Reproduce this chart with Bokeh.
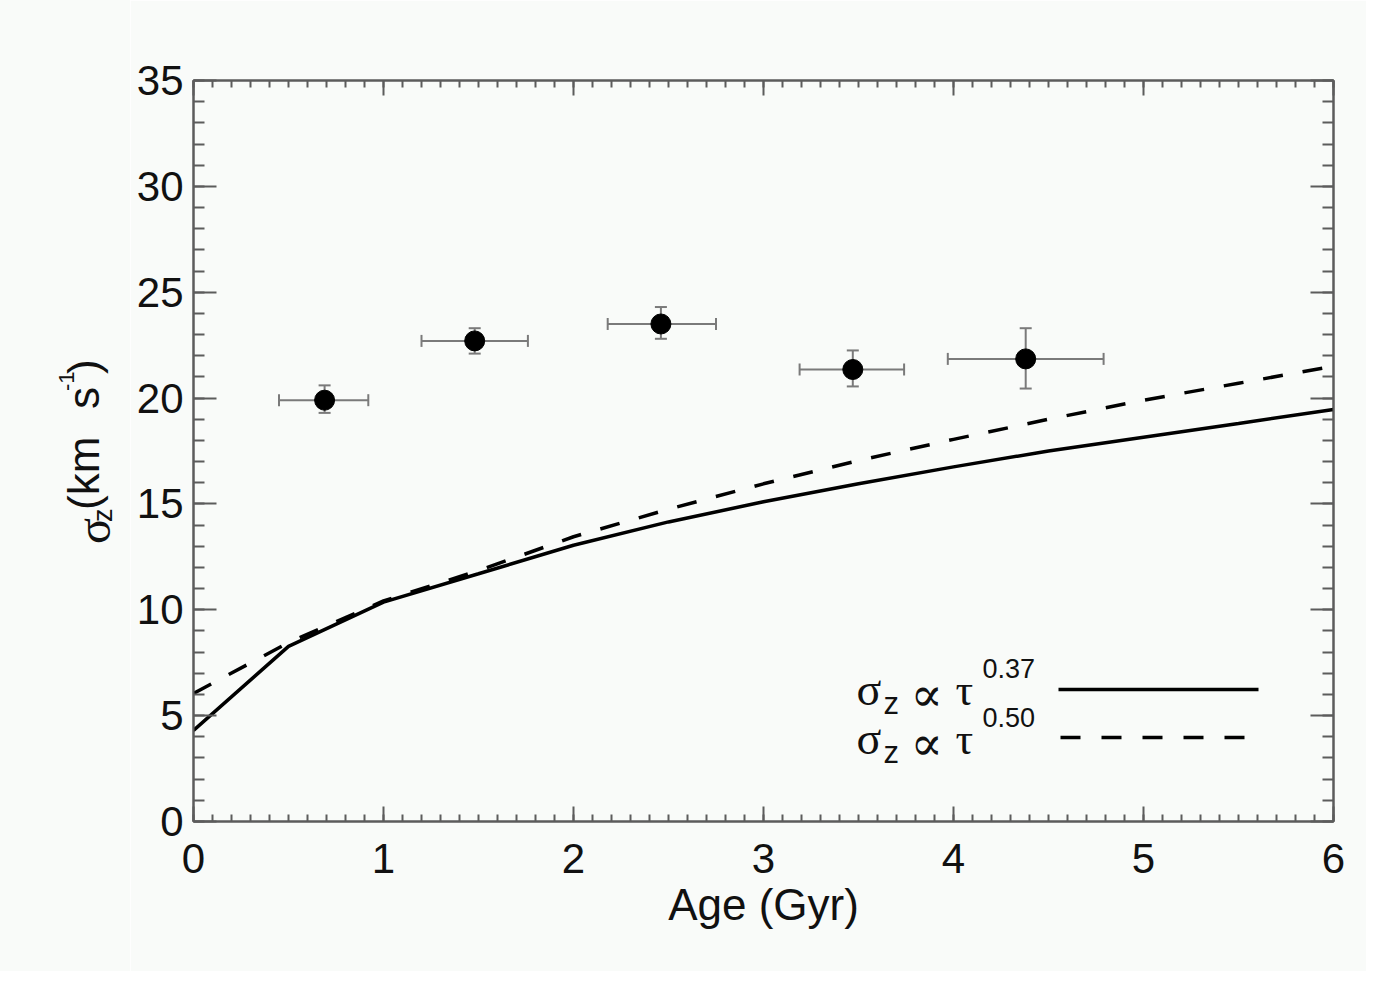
import numpy as np
from bokeh.plotting import figure
from bokeh.layouts import row
from bokeh.models import (Range1d, LinearAxis, SingleIntervalTicker, ColumnDataSource,
                          Whisker, TeeHead, Label, Div)
from bokeh.embed import file_html
from bokeh.resources import INLINE

# ---------------- data ----------------
age = [0.69, 1.48, 2.46, 3.47, 4.38]
age_lo = [0.45, 1.20, 2.18, 3.19, 3.97]
age_hi = [0.92, 1.76, 2.75, 3.74, 4.79]
sigma = [19.9, 22.7, 23.5, 21.35, 21.85]
sigma_lo = [19.3, 22.1, 22.8, 20.55, 20.45]
sigma_hi = [20.6, 23.3, 24.3, 22.25, 23.3]

curve_age = [0.0, 0.5, 1.0, 1.5, 2.0, 2.5, 3.0, 3.5, 4.0, 4.5, 5.0, 5.5, 6.0]
sigma_037 = [4.3, 8.27, 10.36, 11.7, 13.05, 14.15, 15.1, 15.95, 16.75, 17.5, 18.15, 18.8, 19.46]
sigma_050 = [6.05, 8.45, 10.42, 11.85, 13.45, 14.75, 15.95, 17.05, 18.05, 19.0, 19.9, 20.7, 21.5]

x_ticks = [0, 1, 2, 3, 4, 5, 6]
y_ticks = [0, 5, 10, 15, 20, 25, 30, 35]

# ---------------- layout ----------------
BG = "#f9fbf9"
AX = "#5c5c5c"
TXT = "#111111"
LW = 130                      # width of the side strip holding the y-axis title
FL, FT, FW, FH = 193, 80, 1140, 741
FR, FB = 33, 150
H = FT + FH + FB
X0, X1, Y0, Y1 = 0, 6, 0, 35

p = figure(frame_width=FW, frame_height=FH,
           min_border_left=FL - LW, min_border_top=FT, min_border_right=FR, min_border_bottom=FB,
           x_range=Range1d(X0, X1), y_range=Range1d(Y0, Y1),
           x_axis_type=None, y_axis_type=None,
           output_backend="svg", toolbar_location=None,
           background_fill_color=BG, border_fill_color=BG)
p.grid.visible = False
p.outline_line_color = AX
p.outline_line_width = 2

# page pixels -> data, for placing legend text only
def dx(px):
    return X0 + (px - FL) * (X1 - X0) / FW
def dy(py):
    return Y0 + (FT + FH - py) * (Y1 - Y0) / FH

def make_axis(kind, labels):
    if kind == "x":
        t = SingleIntervalTicker(interval=1, num_minor_ticks=10)
        ax = LinearAxis(ticker=t, major_tick_in=15, major_tick_out=0,
                        minor_tick_in=7, minor_tick_out=0)
        ticks = x_ticks
    else:
        t = SingleIntervalTicker(interval=5, num_minor_ticks=5)
        ax = LinearAxis(ticker=t, major_tick_in=23, major_tick_out=0,
                        minor_tick_in=11, minor_tick_out=0)
        ticks = y_ticks
    ax.axis_line_color = AX
    ax.axis_line_width = 2
    ax.major_tick_line_color = AX
    ax.major_tick_line_width = 2
    ax.minor_tick_line_color = AX
    ax.minor_tick_line_width = 2
    ax.major_label_text_font = "Liberation Sans"
    ax.major_label_text_font_size = "42px"
    ax.major_label_text_color = TXT
    if not labels:
        ax.major_label_overrides = {t_: "" for t_ in ticks}
        ax.major_label_standoff = 0
    return ax

xb = make_axis("x", True)
xb.major_label_standoff = 22
xb.axis_label = "Age (Gyr)"
xb.axis_label_text_font = "Liberation Sans"
xb.axis_label_text_font_size = "44px"
xb.axis_label_text_font_style = "normal"
xb.axis_label_text_color = TXT
xb.axis_label_standoff = 4
p.add_layout(xb, "below")

yl = make_axis("y", True)
yl.major_label_standoff = 10
p.add_layout(yl, "left")

p.add_layout(make_axis("x", False), "above")
p.add_layout(make_axis("y", False), "right")

# ---------------- curves ----------------
csrc = ColumnDataSource(dict(age=curve_age, s37=sigma_037, s50=sigma_050))
p.line("age", "s37", source=csrc, line_color="black", line_width=3.5)
p.line("age", "s50", source=csrc, line_color="black", line_width=3.5, line_dash="20 20")

# ---------------- data points with error bars ----------------
src = ColumnDataSource(dict(age=age, age_lo=age_lo, age_hi=age_hi,
                            sigma=sigma, sigma_lo=sigma_lo, sigma_hi=sigma_hi))
EB = "#7a7a7a"
def tee():
    return TeeHead(size=12, line_color=EB, line_width=2)
p.add_layout(Whisker(source=src, base="sigma", lower="age_lo", upper="age_hi",
                     dimension="width", line_color=EB, line_width=2,
                     lower_head=tee(), upper_head=tee()))
p.add_layout(Whisker(source=src, base="age", lower="sigma_lo", upper="sigma_hi",
                     dimension="height", line_color=EB, line_width=2,
                     lower_head=tee(), upper_head=tee()))
p.scatter("age", "sigma", source=src, size=20, color="black")

# ---------------- legend (inside the frame) ----------------
def ptxt(s, px, py, size, font="Liberation Sans"):
    p.add_layout(Label(x=dx(px), y=dy(py), text=s, text_font=font,
                       text_font_size=f"{size}px", text_color=TXT,
                       text_align="left", text_baseline="alphabetic"))

for i, sup in enumerate(["0.37", "0.50"]):
    off = 49 * i - 10
    ptxt("σ", 856, 699 + off, 46, "Liberation Serif")
    ptxt("z", 883, 713 + off, 31, "Liberation Sans")
    ptxt("∝", 910, 703 + off, 48, "DejaVu Serif")
    ptxt("τ", 955, 700 + off, 44, "Liberation Serif")
    ptxt(sup, 982, 678 + off, 27, "Liberation Sans")

p.line([dx(1058), dx(1258)], [dy(689), dy(689)], line_color="black", line_width=3.5)
p.line([dx(1060), dx(1245)], [dy(737), dy(737)], line_color="black", line_width=3.5,
       line_dash="20 21")

# ---------------- y-axis title strip: sigma_z (km s^-1), rotated HTML text ----------------
def piece(s, base_x, start_y, size, serif=False):
    fam = "'Liberation Serif', serif" if serif else "'Liberation Sans', sans-serif"
    b = (0.8375 if serif else 0.8465) * size      # baseline depth in a line-height:1 box
    left = base_x - b
    return (f'<span style="position:absolute;left:{left:.1f}px;top:{start_y}px;'
            f'transform-origin:0 0;transform:rotate(-90deg);white-space:nowrap;'
            f'font-family:{fam};font-size:{size}px;line-height:1;color:{TXT};">{s}</span>')

html = (f'<div style="position:relative;width:{LW}px;height:{H}px;background:{BG};'
        f'margin:0;padding:0;overflow:hidden;">'
        + piece("σ", 110, 544, 48, serif=True)
        + piece("z", 113, 522, 27)
        + piece("(km", 99, 510, 44)
        + piece("s", 99, 409, 44)
        + piece("-1", 75, 391, 22)
        + piece(")", 99, 374, 44)
        + '</div>')
ytitle = Div(text=html, width=LW, height=H, margin=0, styles={"background-color": BG})

layout = row(ytitle, p, spacing=0)
open("out.html", "w").write(file_html(layout, INLINE))
